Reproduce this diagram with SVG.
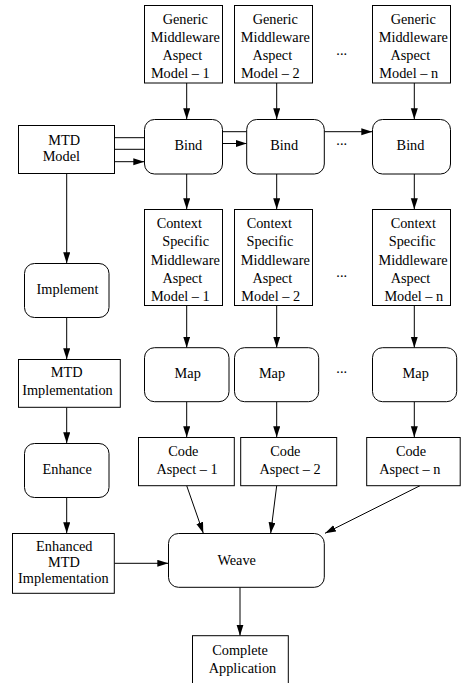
<svg xmlns="http://www.w3.org/2000/svg" width="461" height="683" viewBox="0 0 461 683">
<style>
.box{fill:#fff;stroke:#000;stroke-width:1}
.t{font-family:"Liberation Serif","Times New Roman",serif;font-size:14.3px;fill:#000;text-anchor:middle}
.c{stroke:#000;stroke-width:1;fill:none}
.a{marker-end:url(#ah)}
</style>
<defs>
<marker id="ah" markerUnits="userSpaceOnUse" markerWidth="12" markerHeight="8" refX="11" refY="3.5" orient="auto">
<path d="M0,0 L11,3.5 L0,7 z" fill="#000"/>
</marker>
</defs>
<rect width="461" height="683" fill="#fff"/>
<g id="connectors">
<line class="c a" x1="186.7" y1="83" x2="186.7" y2="119.3"/>
<line class="c a" x1="276.7" y1="83" x2="276.7" y2="119.3"/>
<line class="c a" x1="414.3" y1="83" x2="414.3" y2="119.3"/>
<line class="c" x1="114.3" y1="137.7" x2="144.3" y2="137.7"/>
<line class="c" x1="114.3" y1="149.3" x2="144.3" y2="149.3"/>
<line class="c a" x1="114.3" y1="161.7" x2="144.3" y2="161.7"/>
<line class="c" x1="222.3" y1="131.7" x2="246.7" y2="131.7"/>
<line class="c a" x1="222.3" y1="143.5" x2="246.7" y2="143.5"/>
<line class="c a" x1="324.3" y1="131.7" x2="372.3" y2="131.7"/>
<line class="c a" x1="186.7" y1="174" x2="186.7" y2="209.3"/>
<line class="c a" x1="276.7" y1="174" x2="276.7" y2="209.3"/>
<line class="c a" x1="414.3" y1="174" x2="414.3" y2="209.3"/>
<line class="c a" x1="186.7" y1="305.7" x2="186.7" y2="347.7"/>
<line class="c a" x1="276.7" y1="305.7" x2="276.7" y2="347.7"/>
<line class="c a" x1="414.3" y1="305.7" x2="414.3" y2="347.7"/>
<line class="c a" x1="186.7" y1="401.7" x2="186.7" y2="437.3"/>
<line class="c a" x1="276.7" y1="401.7" x2="276.7" y2="437.3"/>
<line class="c a" x1="414.3" y1="401.7" x2="414.3" y2="437.3"/>
<line class="c a" x1="186.7" y1="485.7" x2="203.3" y2="533.3"/>
<line class="c a" x1="276.7" y1="485.7" x2="270.7" y2="533.3"/>
<line class="c a" x1="420" y1="485.7" x2="325" y2="533.3"/>
<line class="c a" x1="66.7" y1="173.7" x2="66.7" y2="263.3"/>
<line class="c a" x1="66.7" y1="317.7" x2="66.7" y2="359.3"/>
<line class="c a" x1="66.7" y1="407.3" x2="66.7" y2="443.3"/>
<line class="c a" x1="66.7" y1="497.7" x2="66.7" y2="533.3"/>
<line class="c a" x1="114.3" y1="563.3" x2="168.3" y2="563.3"/>
<line class="c a" x1="240" y1="587.3" x2="240" y2="635.7"/>
</g>
<g id="gen1"><rect class="box" x="144.5" y="5.5" width="78" height="77.5"/>
<text class="t" x="185.3" y="23.5">Generic</text><text class="t" x="185.3" y="41.8">Middleware</text><text class="t" x="182.3" y="60">Aspect</text><text class="t" x="180.3" y="78.3">Model – 1</text></g>
<g id="gen2"><rect class="box" x="234.5" y="5.5" width="78" height="77.5"/>
<text class="t" x="275.3" y="23.5">Generic</text><text class="t" x="275.3" y="41.8">Middleware</text><text class="t" x="272.3" y="60">Aspect</text><text class="t" x="270.3" y="78.3">Model – 2</text></g>
<g id="genn"><rect class="box" x="372.5" y="5.5" width="78" height="77.5"/>
<text class="t" x="413.3" y="23.5">Generic</text><text class="t" x="413.3" y="41.8">Middleware</text><text class="t" x="410.3" y="60">Aspect</text><text class="t" x="408.7" y="78.3">Model – n</text></g>
<g id="dots"><text class="t" x="341.7" y="54.5">...</text><text class="t" x="341.7" y="145">...</text><text class="t" x="341.7" y="276.5">...</text><text class="t" x="341.7" y="372.5">...</text></g>
<g id="mtdmodel"><rect class="box" x="18.5" y="125.5" width="96" height="48"/>
<text class="t" x="64.2" y="144.8">MTD</text><text class="t" x="61.3" y="161">Model</text></g>
<g id="bind1"><rect class="box" x="144.5" y="119.5" width="78" height="54.5" rx="10"/><text class="t" x="188.3" y="150.3">Bind</text></g>
<g id="bind2"><rect class="box" x="246.7" y="119.5" width="77.6" height="54.5" rx="10"/><text class="t" x="284.2" y="150.3">Bind</text></g>
<g id="bindn"><rect class="box" x="372.5" y="119.5" width="78" height="54.5" rx="10"/><text class="t" x="410.5" y="150.3">Bind</text></g>
<g id="ctx1"><rect class="box" x="144.5" y="209.5" width="78" height="96"/>
<text class="t" x="179.3" y="228">Context</text><text class="t" x="185.7" y="246.3">Specific</text><text class="t" x="185.3" y="264.6">Middleware</text><text class="t" x="182.3" y="282.9">Aspect</text><text class="t" x="180.3" y="301.2">Model – 1</text></g>
<g id="ctx2"><rect class="box" x="234.5" y="209.5" width="78" height="96"/>
<text class="t" x="269.3" y="228">Context</text><text class="t" x="270" y="246.3">Specific</text><text class="t" x="275.3" y="264.6">Middleware</text><text class="t" x="272.3" y="282.9">Aspect</text><text class="t" x="270.7" y="301.2">Model – 2</text></g>
<g id="ctxn"><rect class="box" x="372.5" y="209.5" width="78" height="96"/>
<text class="t" x="413.3" y="228">Context</text><text class="t" x="412.2" y="246.3">Specific</text><text class="t" x="413" y="264.6">Middleware</text><text class="t" x="410.5" y="282.9">Aspect</text><text class="t" x="413.8" y="301.2">Model – n</text></g>
<g id="implement"><rect class="box" x="24.5" y="263.5" width="84.5" height="54" rx="10"/><text class="t" x="67.5" y="293.8">Implement</text></g>
<g id="map1"><rect class="box" x="144.5" y="347.7" width="84.5" height="54" rx="10"/><text class="t" x="187.7" y="377.8">Map</text></g>
<g id="map2"><rect class="box" x="234.5" y="347.7" width="84.2" height="54" rx="10"/><text class="t" x="272" y="377.8">Map</text></g>
<g id="mapn"><rect class="box" x="372.5" y="347.7" width="84.2" height="54" rx="10"/><text class="t" x="415.7" y="377.8">Map</text></g>
<g id="mtdimpl"><rect class="box" x="18.5" y="359.5" width="101.8" height="47.8"/>
<text class="t" x="66.7" y="377">MTD</text><text class="t" x="67.5" y="394.5">Implementation</text></g>
<g id="code1"><rect class="box" x="138.5" y="437.5" width="95.8" height="48.2"/>
<text class="t" x="183.3" y="455.5">Code</text><text class="t" x="187" y="473.8">Aspect – 1</text></g>
<g id="code2"><rect class="box" x="240.7" y="437.5" width="96" height="48.2"/>
<text class="t" x="285.3" y="455.5">Code</text><text class="t" x="290" y="473.8">Aspect – 2</text></g>
<g id="coden"><rect class="box" x="366.7" y="437.5" width="93.5" height="48.2"/>
<text class="t" x="411" y="455.5">Code</text><text class="t" x="409.8" y="473.8">Aspect – n</text></g>
<g id="enhance"><rect class="box" x="24.5" y="443.5" width="84.5" height="54" rx="10"/><text class="t" x="67.2" y="473.8">Enhance</text></g>
<g id="enhanced"><rect class="box" x="12.5" y="533.5" width="101.8" height="59.8"/>
<text class="t" x="64.3" y="550.5">Enhanced</text><text class="t" x="64" y="566.7">MTD</text><text class="t" x="63.3" y="583">Implementation</text></g>
<g id="weave"><rect class="box" x="168.5" y="533.5" width="155.8" height="53.8" rx="10"/><text class="t" x="236.7" y="564.5">Weave</text></g>
<g id="complete"><rect class="box" x="192.5" y="635.7" width="95.8" height="60"/>
<text class="t" x="240" y="654.5">Complete</text><text class="t" x="242.5" y="672.5">Application</text></g>
</svg>
